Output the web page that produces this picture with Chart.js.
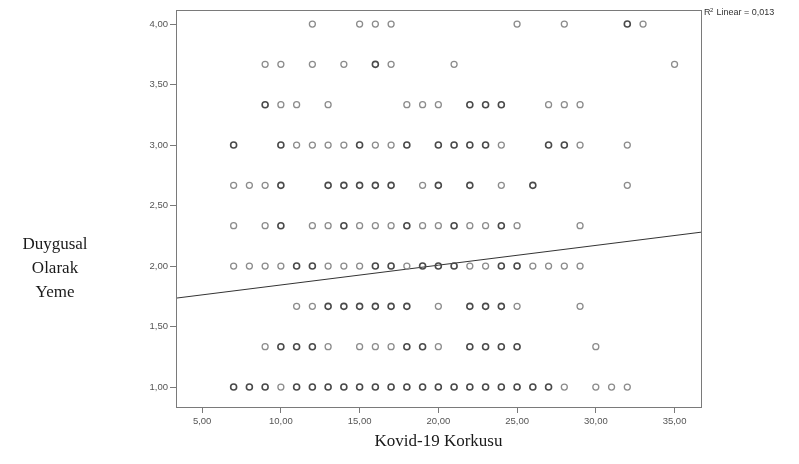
<!DOCTYPE html>
<html>
<head>
<meta charset="utf-8">
<script src="https://cdn.jsdelivr.net/npm/chart.js@4/dist/chart.umd.min.js"></script>
<style>
  html, body { margin: 0; padding: 0; background: #fff; }
  #wrap { width: 799px; height: 464px; }
</style>
</head>
<body>
<div id="wrap"><canvas id="scatter_chart" width="799" height="464"></canvas></div>
<script>
// Duygusal Olarak Yeme levels (y) and the Kovid-19 Korkusu scores (x) seen at each level
var eatingLevels = [1, 4 / 3, 5 / 3, 2, 7 / 3, 8 / 3, 3, 10 / 3, 11 / 3, 4];
var fearScoresByLevel = [
    [7, 8, 9, 10, 11, 12, 13, 14, 15, 16, 17, 18, 19, 20, 21, 22, 23, 24, 25, 26, 27, 28, 30, 31, 32],
    [9, 10, 11, 12, 13, 15, 16, 17, 18, 19, 20, 22, 23, 24, 25, 30],
    [11, 12, 13, 14, 15, 16, 17, 18, 20, 22, 23, 24, 25, 29],
    [7, 8, 9, 10, 11, 12, 13, 14, 15, 16, 17, 18, 19, 20, 21, 22, 23, 24, 25, 26, 27, 28, 29],
    [7, 9, 10, 12, 13, 14, 15, 16, 17, 18, 19, 20, 21, 22, 23, 24, 25, 29],
    [7, 8, 9, 10, 13, 14, 15, 16, 17, 19, 20, 22, 24, 26, 32],
    [7, 10, 11, 12, 13, 14, 15, 16, 17, 18, 20, 21, 22, 23, 24, 27, 28, 29, 32],
    [9, 10, 11, 13, 18, 19, 20, 22, 23, 24, 27, 28, 29],
    [9, 10, 12, 14, 16, 17, 21, 35],
    [12, 15, 16, 17, 25, 28, 32, 33]
];
// scores that show up darker (several cases on the same spot)
var heavyScoresByLevel = [
    [7, 8, 9, 11, 12, 13, 14, 15, 16, 17, 18, 19, 20, 21, 22, 23, 24, 25, 26, 27],
    [10, 11, 12, 18, 19, 22, 23, 24, 25],
    [13, 14, 15, 16, 17, 18, 22, 23, 24],
    [11, 12, 16, 17, 19, 20, 21, 24, 25],
    [10, 14, 18, 21, 24],
    [10, 13, 14, 15, 16, 17, 20, 22, 26],
    [7, 10, 15, 18, 20, 21, 22, 23, 27, 28],
    [9, 22, 23, 24],
    [16],
    [32]
];
var xTicks = [5, 10, 15, 20, 25, 30, 35];
var yTicks = [1, 1.5, 2, 2.5, 3, 3.5, 4];
var xRange = [3.34, 36.68];
var yRange = [0.835, 4.116];
var fitIntercept = 1.68;
var fitSlope = 0.01635;
var rSquared = 0.013;

var lightPoints = [], heavyPoints = [];
eatingLevels.forEach(function (level, i) {
    fearScoresByLevel[i].forEach(function (score) {
        var p = { x: score, y: level };
        if (heavyScoresByLevel[i].indexOf(score) >= 0) heavyPoints.push(p);
        else lightPoints.push(p);
    });
});

function comma(v, digits) {
    return Number(v).toFixed(digits === undefined ? 2 : digits).replace('.', ',');
}

var framePlugin = {
    id: 'frame',
    afterDraw: function (chart) {
        var ctx = chart.ctx, a = chart.chartArea;
        ctx.save();
        ctx.strokeStyle = '#7a7a7a';
        ctx.lineWidth = 1;
        ctx.strokeRect(a.left + 0.5, a.top + 0.5, a.right - a.left, a.bottom - a.top);

        ctx.fillStyle = '#1a1a1a';
        ctx.font = '17px "Liberation Serif", "Times New Roman", serif';
        ctx.textAlign = 'center';
        ctx.textBaseline = 'middle';
        ctx.fillText('Duygusal', 55, 245);
        ctx.fillText('Olarak', 55, 269);
        ctx.fillText('Yeme', 55, 293);
        ctx.fillText('Kovid-19 Korkusu', (a.left + a.right) / 2, 442);

        ctx.fillStyle = '#333';
        ctx.textAlign = 'left';
        ctx.font = '9px "Liberation Sans", Arial, sans-serif';
        ctx.fillText('R', a.right + 3, 13);
        ctx.font = '6px "Liberation Sans", Arial, sans-serif';
        ctx.fillText('2', a.right + 9, 10);
        ctx.font = '9px "Liberation Sans", Arial, sans-serif';
        ctx.fillText(' Linear = ' + comma(rSquared, 3), a.right + 13, 13);
        ctx.restore();
    }
};

new Chart(document.getElementById('scatter_chart').getContext('2d'), {
    type: 'scatter',
    data: {
        datasets: [{
            label: 'light',
            data: lightPoints,
            pointRadius: 3,
            pointBorderWidth: 1.3,
            borderColor: '#8c8c8c',
            backgroundColor: 'rgba(255,255,255,0)'
        }, {
            label: 'heavy',
            data: heavyPoints,
            pointRadius: 3,
            pointBorderWidth: 1.6,
            borderColor: '#4a4a4a',
            backgroundColor: 'rgba(255,255,255,0)'
        }, {
            type: 'line',
            label: 'fit',
            data: xRange.map(function (x) { return { x: x, y: fitIntercept + fitSlope * x }; }),
            borderColor: '#333',
            borderWidth: 1,
            pointRadius: 0,
            fill: false
        }]
    },
    options: {
        responsive: false,
        animation: false,
        layout: { padding: { left: 0, top: 10, right: 98, bottom: 0 } },
        plugins: { legend: { display: false }, tooltip: { enabled: false } },
        scales: {
            x: {
                type: 'linear',
                min: xRange[0],
                max: xRange[1],
                afterBuildTicks: function (s) { s.ticks = xTicks.map(function (v) { return { value: v }; }); },
                afterFit: function (s) { s.height = 57; },
                grid: { drawOnChartArea: false, drawTicks: true, tickLength: 6, color: '#7a7a7a' },
                border: { color: '#7a7a7a' },
                ticks: {
                    callback: function (v) { return comma(v); },
                    color: '#555',
                    padding: 3,
                    maxRotation: 0,
                    font: { family: '"Liberation Sans", Arial, sans-serif', size: 9.5 }
                }
            },
            y: {
                type: 'linear',
                min: yRange[0],
                max: yRange[1],
                afterBuildTicks: function (s) { s.ticks = yTicks.map(function (v) { return { value: v }; }); },
                afterFit: function (s) { s.width = 176; },
                grid: { drawOnChartArea: false, drawTicks: true, tickLength: 6, color: '#7a7a7a' },
                border: { color: '#7a7a7a' },
                ticks: {
                    callback: function (v) { return comma(v); },
                    color: '#555',
                    padding: 2,
                    font: { family: '"Liberation Sans", Arial, sans-serif', size: 9.5 }
                }
            }
        }
    },
    plugins: [framePlugin]
});
</script>
</body>
</html>
